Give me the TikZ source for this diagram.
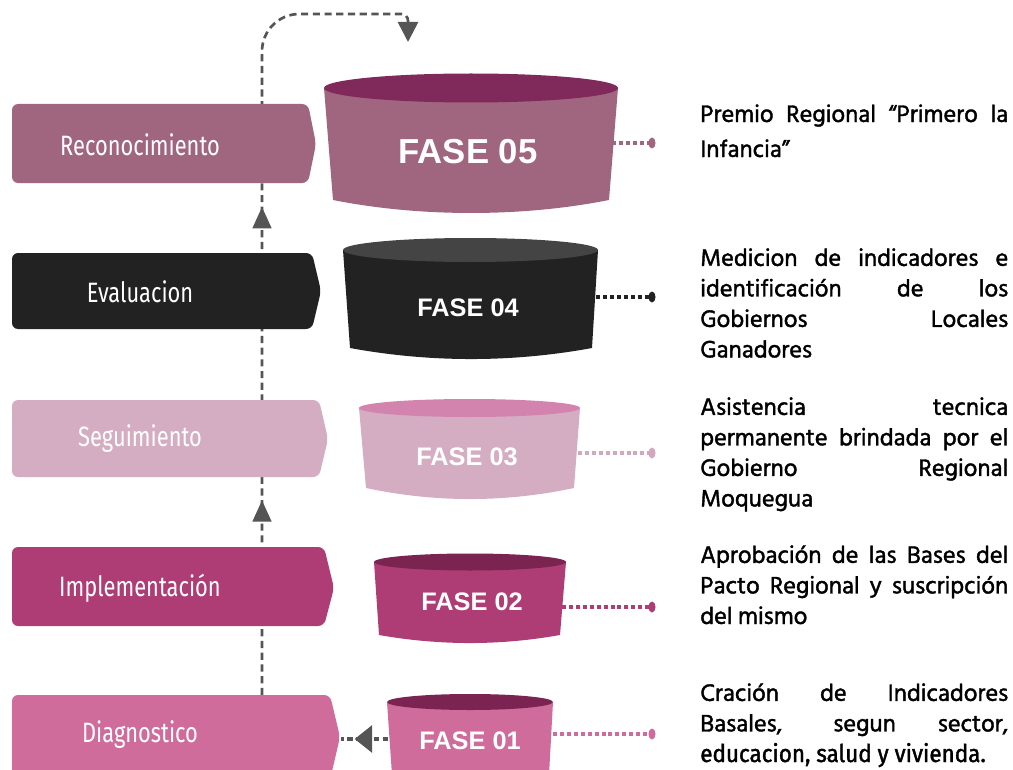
\documentclass[tikz,border=0pt]{standalone}
\usepackage{fontspec}
\setmainfont{Liberation Sans}
\newfontfamily\condfont[FakeStretch=0.78]{Fira Sans}
\newfontfamily\lastfont[FakeStretch=0.92,FakeBold=1.6]{Fira Sans}
\newfontfamily\descfont[FakeBold=1.5]{Hind Siliguri}
\usetikzlibrary{arrows.meta,decorations.markings}
\definecolor{mauve}{HTML}{A0657F}
\definecolor{mauvetop}{HTML}{7F2A5A}
\definecolor{blk}{HTML}{222222}
\definecolor{blktop}{HTML}{444444}
\definecolor{lpink}{HTML}{D5ADC3}
\definecolor{lpinktop}{HTML}{D283AE}
\definecolor{mag}{HTML}{AE3D75}
\definecolor{magtop}{HTML}{7B2452}
\definecolor{pinkc}{HTML}{CF6C9C}
\definecolor{greyline}{HTML}{555555}
\tikzset{
  boxlabel/.style={text=white, inner sep=0pt, font=\condfont\fontsize{21}{24}\selectfont},
  fase/.style={text=white, inner sep=0pt, font=\bfseries\fontsize{19}{22}\selectfont},
  desc/.style={anchor=base west, inner sep=0pt, align=left, text=black},
  dotconn/.style={line width=3pt, dash pattern=on 3pt off 2.2pt},
  greydash/.style={draw=greyline, line width=2pt, dash pattern=on 5.4pt off 3.4pt},
}
\begin{document}
\begin{tikzpicture}[x=0.75pt, y=-0.75pt]
\useasboundingbox (0,0) rectangle (1013,770);

% ---- dashed grey feedback line (behind boxes)
\coordinate (vstart) at (262,695);
\coordinate (vtop) at (262,14);
\coordinate (htop) at (408,14);
\coordinate (vend) at (408,42);
\draw[greydash, -{Triangle[width=15pt,length=15pt]},
  postaction={decorate},
  decoration={markings,
    mark=at position 146pt with {\arrow{Triangle[width=14pt,length=16pt]}},
    mark=at position 366pt with {\arrow{Triangle[width=14pt,length=16pt]}}}]
  (vstart) [rounded corners=28pt] -- (vtop) [rounded corners=5pt] -- (htop) -- (vend);

% ---- left boxes
\fill[mauve, rounded corners=4.5pt] (12,104) -- (308,104) -- (316,144) -- (308,183) -- (12,183) -- cycle;
\node[boxlabel] (b5) at (140,145) {Reconocimiento};
\fill[blk, rounded corners=4.5pt] (12,253) -- (312,253) -- (321,291) -- (312,329) -- (12,329) -- cycle;
\node[boxlabel] (b4) at (140,292) {Evaluacion};
\fill[lpink, rounded corners=4.5pt] (12,400) -- (319,400) -- (328,439) -- (319,477) -- (12,477) -- cycle;
\node[boxlabel] (b3) at (140,439) {Seguimiento};
\fill[mag, rounded corners=4.5pt] (12,547) -- (324,547) -- (334,588) -- (324,626) -- (12,626) -- cycle;
\node[boxlabel] (b2) at (140,588) {Implementación};
\fill[pinkc, rounded corners=4.5pt] (12,695) -- (330,695) -- (340,737) -- (330,780) -- (12,780) -- cycle;
\node[boxlabel] (b1) at (140,735) {Diagnostico};

% ---- cylinders
\fill[mauve] (324,88) -- (333,200) .. controls (420,217.3) and (522,217.3) .. (609,200) -- (618,88) -- cycle;
\fill[mauvetop] (471,88) ellipse [x radius=147, y radius=14.5];
\node[fase, font=\bfseries\fontsize{26}{30}\selectfont] (f5) at (468,152) {FASE 05};

\fill[blk] (343,250) -- (350,348) .. controls (430,362.7) and (512,362.7) .. (592,348) -- (598,250) -- cycle;
\fill[blktop] (470.5,250) ellipse [x radius=127.5, y radius=12];
\node[fase] (f4) at (468,308) {FASE 04};

\fill[lpink] (359,408) -- (366,488) .. controls (435,502.7) and (505,502.7) .. (574,488) -- (580,408) -- cycle;
\fill[lpinktop] (469.5,408) ellipse [x radius=110.5, y radius=9];
\node[fase] (f3) at (467,457) {FASE 03};

\fill[mag] (374,562) -- (379,635) .. controls (440,645.7) and (500,645.7) .. (560,635) -- (566,562) -- cycle;
\fill[magtop] (470,562) ellipse [x radius=96, y radius=8.5];
\node[fase] (f2) at (472,602) {FASE 02};

\fill[pinkc] (387,702) -- (392,775) .. controls (445,788) and (497,788) .. (549,775) -- (553,702) -- cycle;
\fill[magtop] (470,702) ellipse [x radius=83, y radius=8];
\node[fase] (f1) at (470,741) {FASE 01};

% ---- arrow FASE 01 -> Diagnostico
\coordinate (c1l) at (388,739);
\coordinate (b1r) at (341,739);
\draw[greydash, line width=2.6pt, dash pattern=on 4pt off 2.6pt,
  postaction={decorate},
  decoration={markings, mark=at position 25pt with {\arrow{Triangle[width=20pt,length=13pt]}}}]
  (c1l) -- (b1r);

% ---- dotted connectors to descriptions
\coordinate (c5r) at (612,143); \coordinate (d5) at (652,143);
\coordinate (c4r) at (596,297); \coordinate (d4) at (652,297);
\coordinate (c3r) at (578,453); \coordinate (d3) at (652,453);
\coordinate (c2r) at (562,607); \coordinate (d2) at (652,607);
\coordinate (c1r) at (553,734); \coordinate (d1) at (652,734);
\draw[dotconn, mauve] (c5r) -- (d5); \fill[mauve] (d5) ellipse [x radius=3.5, y radius=5.5];
\draw[dotconn, blk] (c4r) -- (d4); \fill[blk] (d4) ellipse [x radius=3.5, y radius=5.5];
\draw[dotconn, lpink!90!pinkc] (c3r) -- (d3); \fill[lpink!90!pinkc] (d3) ellipse [x radius=3.5, y radius=5.5];
\draw[dotconn, mag] (c2r) -- (d2); \fill[mag] (d2) ellipse [x radius=3.5, y radius=5.5];
\draw[dotconn, pinkc] (c1r) -- (d1); \fill[pinkc] (d1) ellipse [x radius=3.5, y radius=5.5];

% ---- descriptions (anchor = baseline of the last line)
\node[desc, font=\descfont\fontsize{18.3}{26.25}\selectfont] (t5) at (700,157)
  {\makebox[231pt][s]{Premio Regional “Primero la}\\Infancia”};
\node[desc, font=\descfont\fontsize{18.3}{22.9}\selectfont] (t4) at (700,357.5)
  {\makebox[231pt][s]{Medicion de indicadores e}\\
   \makebox[231pt][s]{identificación de los}\\
   \makebox[231pt][s]{Gobiernos Locales}\\Ganadores};
\node[desc, font=\descfont\fontsize{18.3}{22.9}\selectfont] (t3) at (700,506.5)
  {\makebox[231pt][s]{Asistencia tecnica}\\
   \makebox[231pt][s]{permanente brindada por el}\\
   \makebox[231pt][s]{Gobierno Regional}\\Moquegua};
\node[desc, font=\descfont\fontsize{18.3}{22.9}\selectfont] (t2) at (700,624)
  {\makebox[231pt][s]{Aprobación de las Bases del}\\
   \makebox[231pt][s]{Pacto Regional y suscripción}\\del mismo};
\node[desc, font=\descfont\fontsize{18.3}{22.9}\selectfont] (t1) at (700,762)
  {\makebox[231pt][s]{Cración de Indicadores}\\
   \makebox[231pt][s]{Basales, segun sector,}\\
   {\lastfont\fontsize{18.3}{22.9}\selectfont educacion, salud y vivienda.}};
\end{tikzpicture}
\end{document}
